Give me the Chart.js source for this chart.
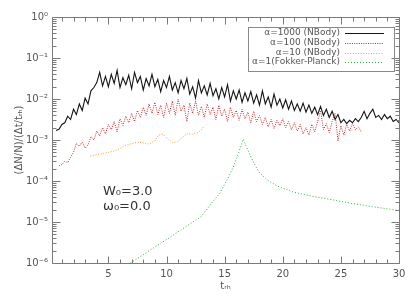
<!DOCTYPE html>
<html><head><meta charset="utf-8">
<script src="https://cdn.jsdelivr.net/npm/chart.js@4.4.0/dist/chart.umd.min.js"></script>
<style>html,body{margin:0;padding:0;background:#fff;}</style>
</head><body>
<canvas id="c" width="415" height="297" style="width:415px;height:297px;display:block"></canvas>
<script>
// ---- data (y values stored as log10 of (ΔN/N)/(Δt/t_rh)) ----
const tNBody = [0.5,0.75,1,1.25,1.5,1.75,2,2.25,2.5,2.75,3,3.25,3.5,3.75,4,4.25,4.5,4.75,5,5.25,5.5,5.75,6,6.25,6.5,6.75,7,7.25,7.5,7.75,8,8.25,8.5,8.75,9,9.25,9.5,9.75,10,10.25,10.5,10.75,11,11.25,11.5,11.75,12,12.25,12.5,12.75,13,13.25,13.5,13.75,14,14.25,14.5,14.75,15,15.25,15.5,15.75,16,16.25,16.5,16.75,17,17.25,17.5,17.75,18,18.25,18.5,18.75,19,19.25,19.5,19.75,20,20.25,20.5,20.75,21,21.25,21.5,21.75,22,22.25,22.5,22.75,23,23.25,23.5,23.75,24,24.25,24.5,24.75,25,25.25,25.5,25.75,26,26.25,26.5,26.75,27,27.25,27.5,27.75,28,28.25,28.5,28.75,29,29.25,29.5,29.75,30];
const logAlpha1000 = [-2.77,-2.74,-2.62,-2.58,-2.42,-2.50,-2.25,-2.38,-2.12,-2.28,
-1.98,-2.12,-1.80,-1.72,-1.60,-1.35,-1.68,-1.45,-1.70,-1.40,
-1.62,-1.30,-1.72,-1.48,-1.65,-1.42,-1.75,-1.35,-1.60,-1.45,
-1.78,-1.50,-1.68,-1.40,-1.70,-1.52,-1.82,-1.55,-1.72,-1.45,
-1.78,-1.60,-1.85,-1.55,-1.75,-1.50,-1.88,-1.70,-1.98,-1.55,
-1.85,-1.68,-1.90,-1.62,-1.92,-1.75,-2.00,-1.72,-1.95,-1.65,
-2.05,-1.80,-2.00,-1.78,-2.08,-1.85,-2.05,-1.82,-2.10,-1.90,
-2.15,-1.80,-2.12,-1.95,-2.20,-1.88,-2.15,-2.00,-2.22,-2.02,
-2.25,-2.05,-2.28,-2.12,-2.30,-2.10,-2.32,-2.15,-2.35,-2.20,
-2.38,-2.18,-2.40,-2.25,-2.45,-2.30,-2.50,-2.38,-2.58,-2.50,
-2.60,-2.52,-2.58,-2.48,-2.55,-2.45,-2.30,-2.48,-2.35,-2.25,
-2.45,-2.40,-2.50,-2.38,-2.48,-2.42,-2.55,-2.50,-2.58];
const logAlpha100 = [null,
-3.63,-3.60,-3.52,-3.55,-3.42,-3.30,-3.08,-3.15,-3.05,-3.20,
-3.12,-2.92,-3.00,-2.78,-2.90,-2.70,-2.85,-2.62,-2.75,-2.55,
-2.80,-2.48,-2.65,-2.42,-2.58,-2.35,-2.55,-2.28,-2.45,-2.20,
-2.40,-2.12,-2.35,-2.08,-2.38,-2.15,-2.45,-2.10,-2.35,-2.05,
-2.40,-2.00,-2.30,-2.15,-2.55,-2.10,-2.35,-2.05,-2.40,-2.18,
-2.45,-2.12,-2.38,-2.20,-2.50,-2.15,-2.42,-2.25,-2.55,-2.20,
-2.45,-2.28,-2.52,-2.25,-2.48,-2.32,-2.58,-2.30,-2.55,-2.40,
-2.62,-2.45,-2.68,-2.50,-2.72,-2.52,-2.65,-2.48,-2.70,-2.55,
-2.75,-2.58,-2.78,-2.62,-2.85,-2.70,-2.88,-2.62,-2.80,-2.55,
-2.28,-2.75,-2.60,-2.82,-2.55,-2.35,-3.02,-2.65,-2.88,-2.62,
-2.78,-2.60,-2.75,-2.68,-2.80,
null,null,null,null,null,null,null,null,null,null,null,null,null];
const tAlpha10 = [3.45,4.0,4.5,5.0,5.5,6.0,6.5,7.0,7.5,8.0,8.5,9.0,9.3,9.7,10.0,10.5,10.9,11.3,11.8,12.2,12.7,13.0,13.2];
const logAlpha10 = [-3.39,-3.36,-3.33,-3.30,-3.27,-3.21,-3.13,-3.09,-3.05,-3.07,-3.10,-3.02,-2.88,-2.86,-2.95,-3.05,-3.06,-2.95,-2.84,-2.86,-2.82,-2.75,-2.68];
const tFP = [6.9,8,9,10,11,12,13,14,14.6,15.2,15.75,16.2,16.6,17.0,17.5,18,18.7,19.5,20.9,22.5,24.3,26,27.8,30];
const logFP = [-6.0,-5.8,-5.61,-5.43,-5.24,-5.05,-4.86,-4.5,-4.29,-3.98,-3.66,-3.32,-2.98,-3.25,-3.56,-3.8,-3.98,-4.12,-4.27,-4.37,-4.46,-4.55,-4.63,-4.72];
const seriesLabels = ["α=1000 (NBody)","α=100 (NBody)","α=10 (NBody)","α=1(Fokker-Planck)"];
const xTickValues = [5,10,15,20,25,30];
const yTickValues = [1e-6,1e-5,1e-4,1e-3,1e-2,1e-1,1];
const yTickLabels = ["10⁻⁶","10⁻⁵","10⁻⁴","10⁻³","10⁻²","10⁻¹","10⁰"];
const annotationLines = ["W₀=3.0","ω₀=0.0"];

function pts(ts, logs){
  const out=[];
  for(let i=0;i<ts.length;i++){ if(logs[i]!==null && logs[i]!==undefined) out.push({x:ts[i], y:Math.pow(10,logs[i])}); }
  return out;
}

const AXIS='#7a7a7a', TXT='#555555';
const FONT='"DejaVu Sans", sans-serif';

const framePlugin = {
  id:'frame',
  afterDraw(chart){
    const {ctx, chartArea:a, scales:{x,y}} = chart;
    ctx.save();
    ctx.strokeStyle=AXIS; ctx.lineWidth=1;
    const L=Math.round(a.left)+0.5, R=Math.round(a.right)+0.5, T=Math.round(a.top)+0.5, B=Math.round(a.bottom)+0.5;
    ctx.beginPath(); ctx.rect(L,T,R-L,B-T); ctx.stroke();
    ctx.beginPath();
    for(let t=1;t<=30;t++){
      const px=Math.round(x.getPixelForValue(t))+0.5;
      const len = (t%5===0)?7:4;
      ctx.moveTo(px,B); ctx.lineTo(px,B-len);
      ctx.moveTo(px,T); ctx.lineTo(px,T+len);
    }
    for(let e=-6;e<=0;e++){
      for(let m=1;m<=9;m++){
        const v=m*Math.pow(10,e); if(v>1.0000001) break;
        const py=Math.round(y.getPixelForValue(v))+0.5;
        const len=(m===1)?8:4;
        ctx.moveTo(L,py); ctx.lineTo(L+len,py);
        ctx.moveTo(R,py); ctx.lineTo(R-len,py);
      }
    }
    ctx.stroke();
    // legend
    const bx=248.5, by=27.5, bw=146, bh=44;
    ctx.strokeStyle='#8a8a8a';
    ctx.strokeRect(bx,by,bw,bh);
    ctx.font='9px '+FONT; ctx.textAlign='right'; ctx.textBaseline='middle';
    const rows=[33,43,52.5,62];
    chart.data.datasets.forEach((ds,i)=>{
      ctx.fillStyle=TXT;
      ctx.fillText(ds.label, 340, rows[i]);
      ctx.save();
      ctx.strokeStyle=ds.borderColor; ctx.lineWidth=1;
      ctx.setLineDash(ds.borderDash||[]);
      ctx.beginPath(); ctx.moveTo(345,Math.round(rows[i])+0.5); ctx.lineTo(384,Math.round(rows[i])+0.5); ctx.stroke();
      ctx.restore();
    });
    // annotation
    ctx.fillStyle='#333333'; ctx.textAlign='left'; ctx.textBaseline='alphabetic';
    ctx.font='13px '+FONT;
    ctx.fillText(annotationLines[0], 103, 195);
    ctx.fillText(annotationLines[1], 103, 210);
    ctx.restore();
  }
};

const chart = new Chart(document.getElementById('c'), {
  type:'line',
  data:{datasets:[
    {label:seriesLabels[0], data:pts(tNBody,logAlpha1000), borderColor:'#151515', borderWidth:1.1, borderDash:[]},
    {label:seriesLabels[1], data:pts(tNBody,logAlpha100), borderColor:'#dd2020', borderWidth:1, borderDash:[1,1.3]},
    {label:seriesLabels[2], data:pts(tAlpha10,logAlpha10), borderColor:'#ff9a30', borderWidth:1, borderDash:[1,1.6]},
    {label:seriesLabels[3], data:pts(tFP,logFP), borderColor:'#2fae45', borderWidth:1, borderDash:[1,2]}
  ]},
  options:{
    responsive:false, animation:false,
    layout:{padding:{top:17,right:16,left:0,bottom:0}},
    elements:{point:{radius:0,hoverRadius:0}, line:{tension:0}},
    plugins:{legend:{display:false}, tooltip:{enabled:false}},
    events:[],
    scales:{
      x:{type:'linear', min:0.15, max:30,
        grid:{display:false, drawTicks:false}, border:{display:false},
        afterBuildTicks:(s)=>{ s.ticks = xTickValues.map(v=>({value:v})); },
        ticks:{color:TXT, font:{family:FONT,size:10}, padding:5, maxRotation:0, autoSkip:false,
          callback:(v)=>String(v)},
        title:{display:true, text:'tᵣₕ', color:TXT, font:{family:FONT,size:10}, padding:{top:0,bottom:5}},
        afterFit:(s)=>{ s.height=34; }
      },
      y:{type:'logarithmic', min:1e-6, max:1,
        grid:{display:false, drawTicks:false}, border:{display:false},
        afterBuildTicks:(s)=>{ s.ticks = yTickValues.map(v=>({value:v, major:true})); },
        ticks:{color:TXT, font:{family:FONT,size:10}, padding:4, autoSkip:false,
          callback:(v)=>{ const i=yTickValues.findIndex(t=>Math.abs(Math.log10(t)-Math.log10(v))<1e-6); return i>=0?yTickLabels[i]:''; }},
        title:{display:true, text:'(ΔN/N)/(Δt/tᵣₕ)', color:TXT, font:{family:FONT,size:10}, padding:{top:13,bottom:0}},
        afterFit:(s)=>{ s.width=52; }
      }
    }
  },
  plugins:[framePlugin]
});
</script>
</body></html>
